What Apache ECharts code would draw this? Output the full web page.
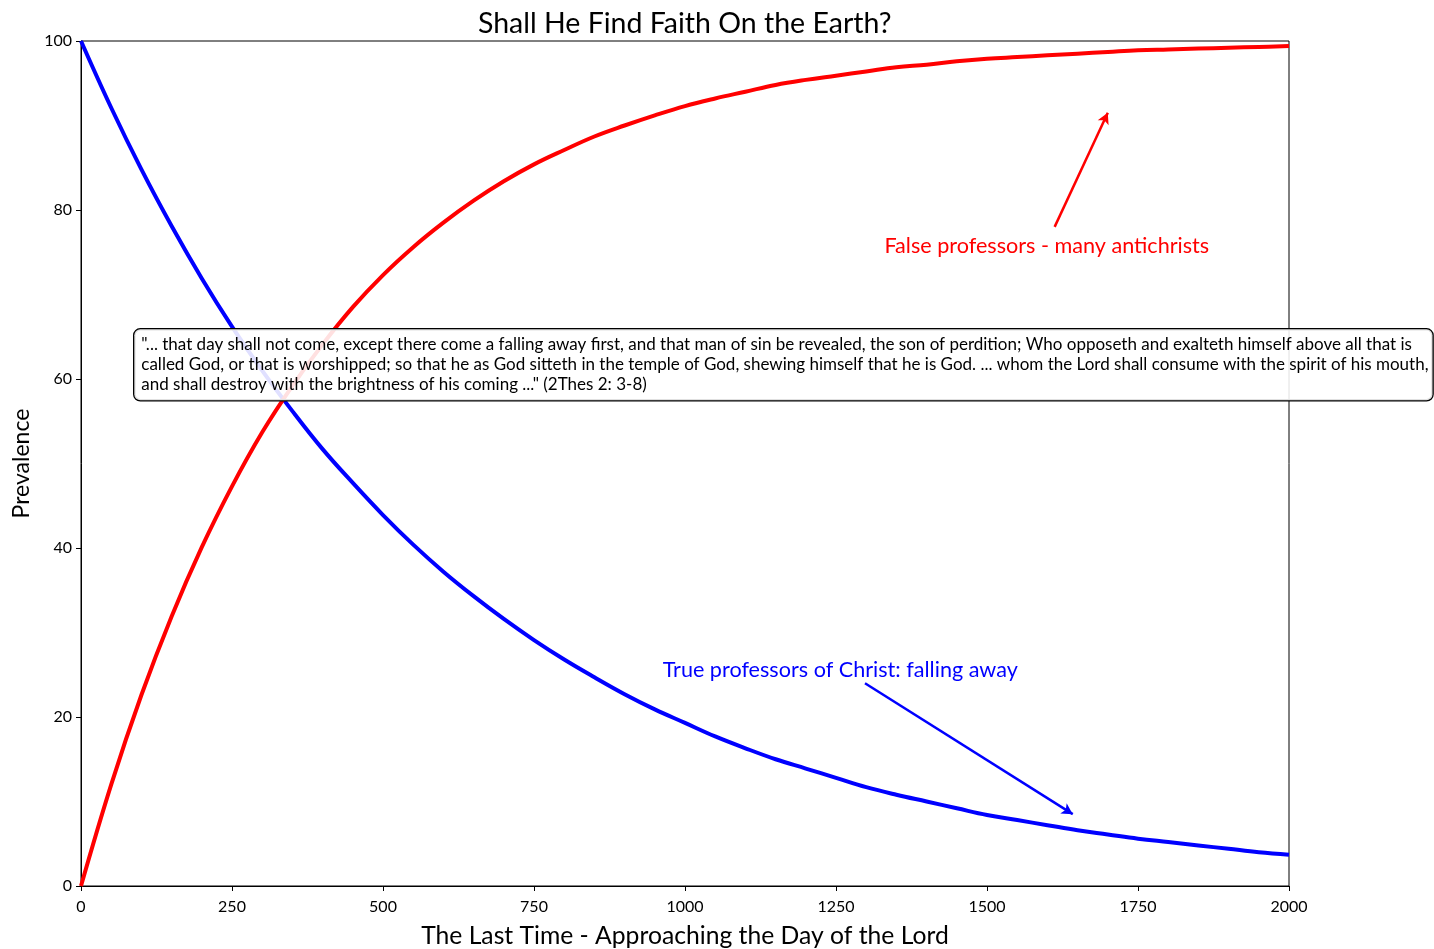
<!DOCTYPE html>
<html lang="en">
<head>
    <meta charset="UTF-8">
    <title>Shall He Find Faith On the Earth?</title>
    <script src="https://cdn.jsdelivr.net/npm/echarts@6/dist/echarts.min.js"></script>
    <style>
        html, body { margin: 0; padding: 0; background: #fff; }
        #main { width: 1434px; height: 949px; }
    </style>
</head>
<body>
<div id="main"></div>
<script type="text/javascript">
    // values, one every 50
    var years = [0, 50, 100, 150, 200, 250, 300, 350, 400, 450, 500, 550, 600, 650, 700, 750, 800, 850, 900, 950,
        1000, 1050, 1100, 1150, 1200, 1250, 1300, 1350, 1400, 1450, 1500, 1550, 1600, 1650, 1700, 1750, 1800, 1850, 1900, 1950, 2000];
    var trueProfessors = [100, 92.1, 84.8, 78.1, 71.9, 66.2, 61.0, 56.2, 51.7, 47.7, 43.9, 40.4, 37.2, 34.3, 31.6, 29.1, 26.8, 24.7, 22.7, 20.9,
        19.3, 17.7, 16.3, 15.0, 13.9, 12.8, 11.7, 10.8, 10.0, 9.2, 8.4, 7.8, 7.2, 6.6, 6.1, 5.6, 5.2, 4.8, 4.4, 4.0, 3.7];
    var falseProfessors = [0, 12.0, 22.6, 31.9, 40.1, 47.3, 53.7, 59.2, 64.1, 68.5, 72.3, 75.6, 78.5, 81.1, 83.4, 85.4, 87.1, 88.7, 90.0, 91.2,
        92.3, 93.2, 94.0, 94.8, 95.4, 95.9, 96.4, 96.9, 97.2, 97.6, 97.9, 98.1, 98.3, 98.5, 98.7, 98.9, 99.0, 99.1, 99.2, 99.3, 99.4];

    // annotation arrows: [from, to] in data coordinates
    var falseArrow = [[1612, 78], [1700, 91.5]];
    var trueArrow = [[1298, 24], [1642, 8.5]];
    var falseLabelAt = [1599, 75.7];
    var trueLabelAt = [1257, 25.5];

    var quote = '"... that day shall not come, except there come a falling away first, and that man of sin be revealed, the son of perdition; Who opposeth and exalteth himself above all that is\n' +
        'called God, or that is worshipped; so that he as God sitteth in the temple of God, shewing himself that he is God. ... whom the Lord shall consume with the spirit of his mouth,\n' +
        'and shall destroy with the brightness of his coming ..." (2Thes 2: 3-8)';

    function pairs(xs, ys) {
        var out = [];
        for (var i = 0; i < xs.length; i++) {
            out.push([xs[i], ys[i]]);
        }
        return out;
    }

    var font = 'Lato';
    var myChart = echarts.init(document.getElementById('main'));
    myChart.setOption({
        animation: false,
        textStyle: { fontFamily: font },
        title: {
            text: 'Shall He Find Faith On the Earth?',
            left: 473,
            top: 4,
            textStyle: { fontFamily: font, fontSize: 28.5, fontWeight: 'normal', color: '#000' }
        },
        grid: {
            left: 81, right: 145, top: 41, bottom: 63,
            outerBoundsMode: 'none',
            show: true, borderColor: '#000', borderWidth: 1
        },
        xAxis: {
            type: 'value',
            min: 0, max: 2000, interval: 250,
            name: 'The Last Time - Approaching the Day of the Lord',
            nameLocation: 'middle',
            nameGap: 38,
            nameTextStyle: { fontFamily: font, fontSize: 24.7, color: '#000' },
            axisLine: { onZero: false, lineStyle: { color: '#000' } },
            axisTick: { length: 5, lineStyle: { color: '#000' } },
            axisLabel: { color: '#000', fontSize: 16, margin: 13, formatter: function (v) { return String(v); } },
            splitLine: { show: false }
        },
        yAxis: {
            type: 'value',
            min: 0, max: 100, interval: 20,
            name: 'Prevalence',
            nameLocation: 'middle',
            nameGap: 48,
            nameTextStyle: { fontFamily: font, fontSize: 23, color: '#000' },
            axisLine: { show: true, lineStyle: { color: '#000' } },
            axisTick: { show: true, length: 5, lineStyle: { color: '#000' } },
            axisLabel: { color: '#000', fontSize: 16, margin: 9 },
            splitLine: { show: false }
        },
        series: [
            {
                name: 'True professors',
                type: 'line',
                data: pairs(years, trueProfessors),
                smooth: 0.4,
                showSymbol: false,
                lineStyle: { color: '#0000ff', width: 4 },
                z: 2,
                markLine: {
                    silent: true,
                    symbol: ['none', 'arrow'],
                    symbolSize: [9, 11],
                    label: { show: false },
                    lineStyle: { color: '#0000ff', width: 2.5, type: 'solid' },
                    data: [[{ coord: trueArrow[0] }, { coord: trueArrow[1] }]]
                },
                markPoint: {
                    silent: true,
                    symbol: 'circle',
                    symbolSize: 1,
                    itemStyle: { color: 'rgba(0,0,0,0)' },
                    label: { show: true, position: 'inside', formatter: 'True professors of Christ: falling away', color: '#0000ff', fontSize: 21.6, fontFamily: font },
                    data: [{ coord: trueLabelAt }]
                }
            },
            {
                name: 'False professors',
                type: 'line',
                data: pairs(years, falseProfessors),
                smooth: 0.4,
                showSymbol: false,
                lineStyle: { color: '#ff0000', width: 4 },
                z: 3,
                markLine: {
                    silent: true,
                    symbol: ['none', 'arrow'],
                    symbolSize: [9, 11],
                    label: { show: false },
                    lineStyle: { color: '#ff0000', width: 2.5, type: 'solid' },
                    data: [[{ coord: falseArrow[0] }, { coord: falseArrow[1] }]]
                },
                markPoint: {
                    silent: true,
                    symbol: 'circle',
                    symbolSize: 1,
                    itemStyle: { color: 'rgba(0,0,0,0)' },
                    label: { show: true, position: 'inside', formatter: 'False professors - many antichrists', color: '#ff0000', fontSize: 21.6, fontFamily: font },
                    data: [{ coord: falseLabelAt }]
                }
            }
        ],
        graphic: [
            {
                type: 'text',
                left: 133,
                top: 328,
                z: 100,
                style: {
                    text: quote,
                    fontFamily: font,
                    fontSize: 17,
                    lineHeight: 20,
                    fill: '#000',
                    backgroundColor: 'rgba(255,255,255,0.88)',
                    borderColor: '#000',
                    borderWidth: 1.3,
                    borderRadius: 6,
                    padding: [5, 4, 6, 7]
                }
            }
        ]
    });
</script>
</body>
</html>
